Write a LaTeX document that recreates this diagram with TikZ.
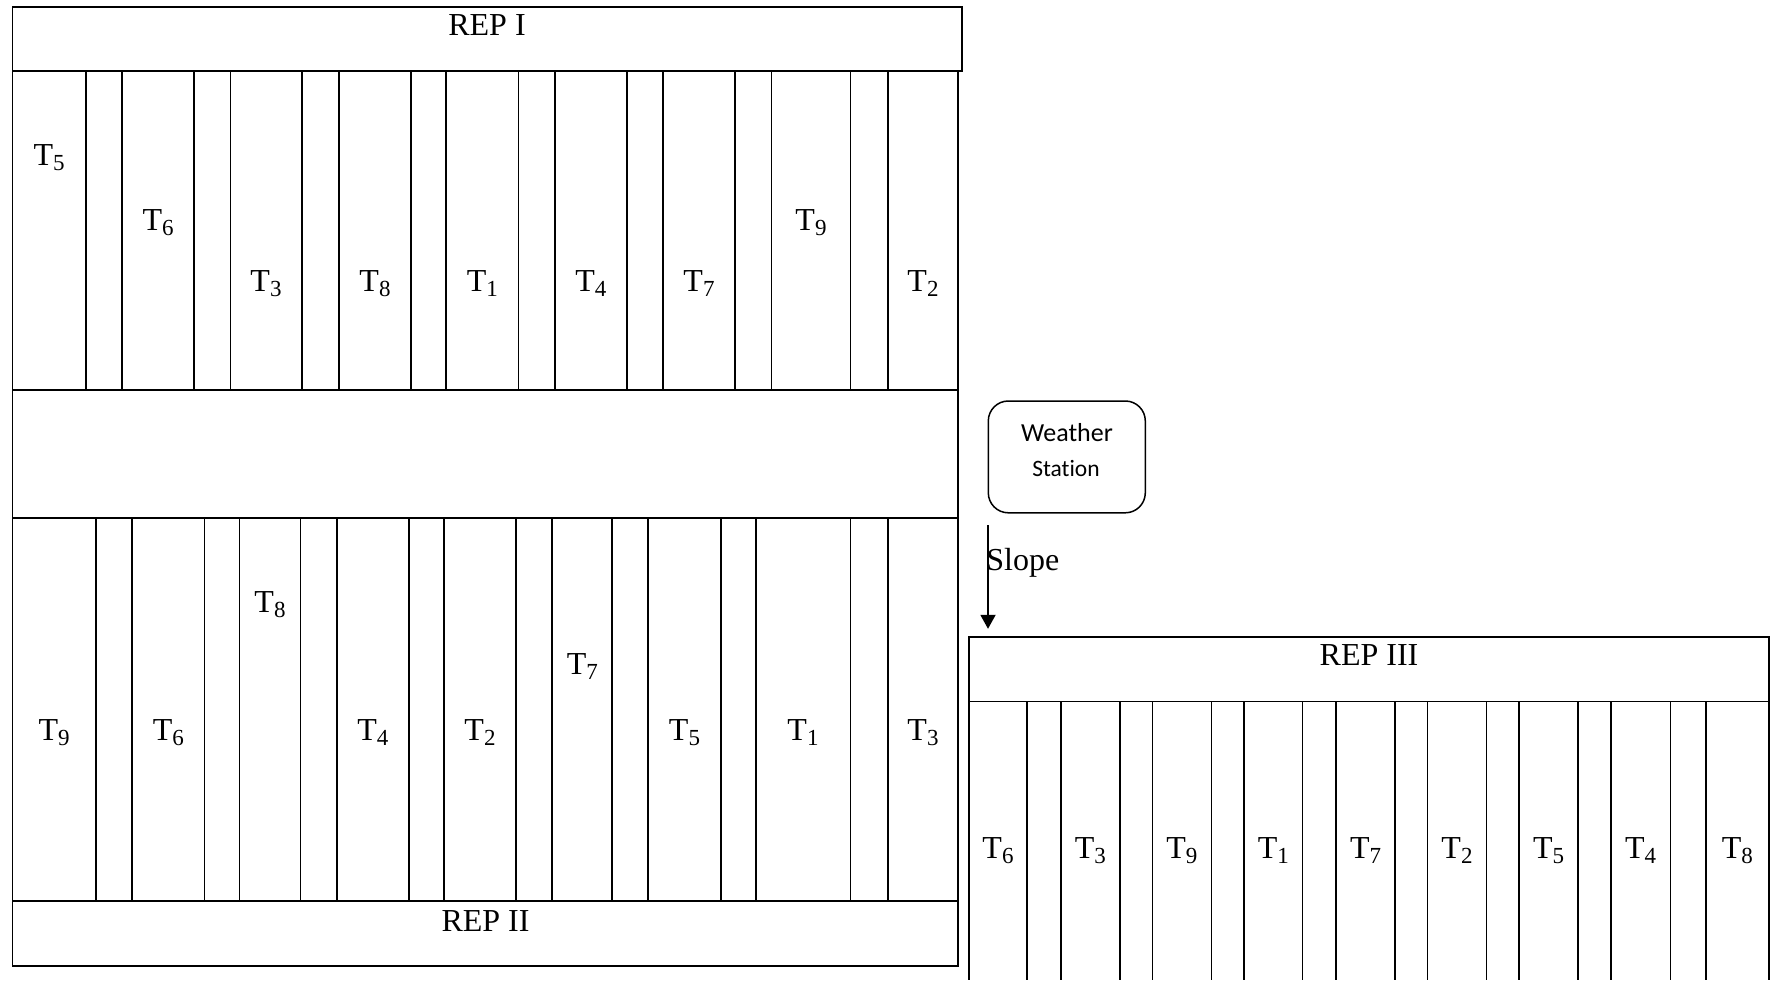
\documentclass[tikz,border=0pt]{standalone}
\usepackage{fontspec}
\setmainfont{Liberation Serif}
\newfontfamily\calib[Ligatures=NoCommon]{Carlito}
\usetikzlibrary{arrows.meta}
\newcommand{\tsub}[1]{T\raisebox{-5pt}{\fontsize{23}{23}\selectfont #1}}
\begin{document}
\begin{tikzpicture}[x=1pt,y=-1pt,line width=1.8pt,
  lab/.style={anchor=base,inner sep=0pt,font=\fontsize{32}{32}\selectfont},
  wlab/.style={anchor=base,inner sep=0pt},
  plotline/.style={line width=1.8pt}]
\useasboundingbox (0,0) rectangle (1771,980);
% ---------- REP I and REP II block ----------
\draw (12.4,7) rectangle (962,70.7);
\draw (12.4,70.7) rectangle (958,965.7);
\draw (12.4,389.7) -- (958,389.7);
\draw (12.4,518) -- (958,518);
\draw (12.4,901) -- (958,901);
\foreach \x in {85.8,122,194.3,230.4,301.6,338.9,411.1,446.2,518.4,554.6,626.9,663,735.3,771.4,850.5,887.8}
  \draw[plotline] (\x,70.7) -- (\x,389.7);
\foreach \x in {96,132.2,204.4,239.5,300.4,336.6,408.9,443.9,516.2,552.3,612.2,648.3,720.6,755.6,850.5,887.8}
  \draw[plotline] (\x,518) -- (\x,901);
\node[lab] (rep1) at (487,35.5) {REP I};
\node[lab] (rep2) at (485.5,931) {REP II};
% REP I labels
\node[lab] (a1) at (49.1,165) {\tsub{5}};
\node[lab] (a2) at (158.2,230) {\tsub{6}};
\node[lab] (a3) at (266,291) {\tsub{3}};
\node[lab] (a4) at (375,291) {\tsub{8}};
\node[lab] (a5) at (482.3,291) {\tsub{1}};
\node[lab] (a6) at (590.8,291) {\tsub{4}};
\node[lab] (a7) at (699,291) {\tsub{7}};
\node[lab] (a8) at (811,230) {\tsub{9}};
\node[lab] (a9) at (923,291) {\tsub{2}};
% REP II labels
\node[lab] (b1) at (54.2,740) {\tsub{9}};
\node[lab] (b2) at (168.3,740) {\tsub{6}};
\node[lab] (b3) at (270,612.3) {\tsub{8}};
\node[lab] (b4) at (372.8,740) {\tsub{4}};
\node[lab] (b5) at (480,740) {\tsub{2}};
\node[lab] (b6) at (582.3,674.7) {\tsub{7}};
\node[lab] (b7) at (684.5,740) {\tsub{5}};
\node[lab] (b8) at (803,740) {\tsub{1}};
\node[lab] (b9) at (923,740) {\tsub{3}};
% ---------- Weather station and slope ----------
\node[draw,rounded corners=20pt,minimum width=157pt,minimum height=111.8pt,line width=1.5pt,inner sep=0pt] (ws) at (1066.8,456.9) {};
\node[wlab,font=\calib\fontsize{26}{26}\selectfont] (wsa) at (1067,441) {Weather};
\node[wlab,font=\calib\fontsize{23.5}{23.5}\selectfont] (wsb) at (1066,476.5) {Station};
\coordinate (s0) at (988,525);
\coordinate (s1) at (988,628.8);
\draw[-{Triangle[length=14pt,width=15pt]}] (s0) -- (s1);
\node[lab,anchor=base west] (slope) at (985.5,570.5) {Slope};
% ---------- REP III ----------
\draw (969,637) rectangle (1768.7,701.5);
\node[lab] (rep3) at (1369,665.7) {REP III};
\foreach \x in {969,1027,1060.7,1120,1152.5,1211.5,1244,1302.5,1336.3,1395,1427.5,1486.5,1519,1578.2,1610.8,1670.4,1706,1768.7}
  \draw[plotline] (\x,701.5) -- (\x,980);
\node[lab] (c1) at (998,858.3) {\tsub{6}};
\node[lab] (c2) at (1090.4,858.3) {\tsub{3}};
\node[lab] (c3) at (1181.8,858.3) {\tsub{9}};
\node[lab] (c4) at (1273.3,858.3) {\tsub{1}};
\node[lab] (c5) at (1365.6,858.3) {\tsub{7}};
\node[lab] (c6) at (1457,858.3) {\tsub{2}};
\node[lab] (c7) at (1548.6,858.3) {\tsub{5}};
\node[lab] (c8) at (1640.6,858.3) {\tsub{4}};
\node[lab] (c9) at (1737.4,858.3) {\tsub{8}};
\end{tikzpicture}
\end{document}
